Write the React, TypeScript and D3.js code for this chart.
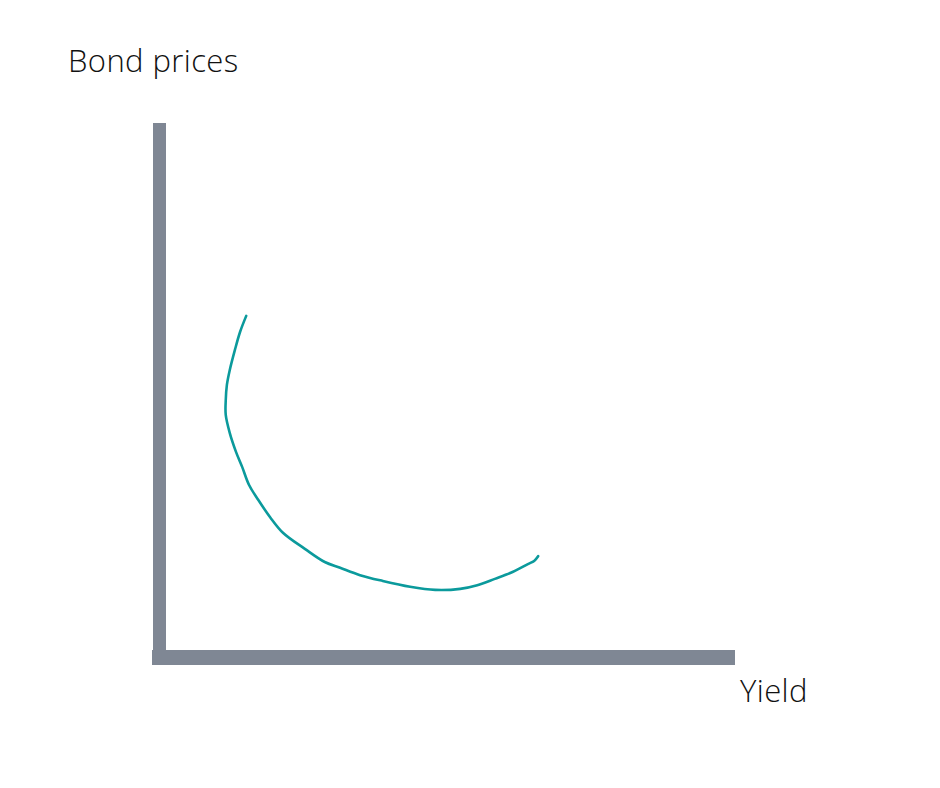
import React, { useEffect } from "react";
import * as d3 from "d3";

const yieldValues = [14.1, 13.0, 12.1, 11.2, 10.7, 10.5, 10.5, 11.2, 12.3, 13.4, 14.6, 16.2, 18.3, 20.6, 24.4, 27.9, 30.6, 34.1, 38.1, 42.9, 47.3, 51.7, 54.7, 57.8, 60.5, 63.6, 64.7, 65.4];
const priceValues = [63.4, 60.3, 56.9, 53.1, 50.3, 47.4, 44.6, 41.2, 37.6, 34.7, 31.3, 28.5, 25.2, 22.2, 19.2, 16.7, 15.6, 14.2, 13.1, 12.0, 11.4, 11.6, 12.3, 13.5, 14.6, 16.3, 16.9, 17.8];
const yAxisTitle = "Bond prices";
const xAxisTitle = "Yield";

const W = 940;
const H = 788;

export default function App() {
  useEffect(() => {
    document.body.style.margin = "0";
  }, []);

  const x = d3.scaleLinear().domain([0, 100]).range([166, 735]);
  const y = d3.scaleLinear().domain([0, 100]).range([650, 123]);

  const pts: [number, number][] = yieldValues.map((v, i) => [v, priceValues[i]]);
  const line = d3
    .line<[number, number]>()
    .x((d) => x(d[0]))
    .y((d) => y(d[1]))
    .curve(d3.curveCatmullRom.alpha(0.5));

  const axisColor = "#7f8794";

  return (
    <svg width={W} height={H} style={{ display: "block", background: "#fff" }}>
      <rect x={153} y={y(100)} width={13} height={y(0) - y(100)} fill={axisColor} />
      <rect x={152} y={y(0)} width={x(100) - 152} height={15} fill={axisColor} />
      <path d={line(pts) || ""} fill="none" stroke="#0b9a9c" strokeWidth={2.6} strokeLinecap="round" strokeLinejoin="round" />
      <text x={68} y={72} fontFamily="'Open Sans', sans-serif" fontWeight={300} fontSize={31} letterSpacing={0.4} fill="#111">
        {yAxisTitle}
      </text>
      <text x={740} y={702} fontFamily="'Open Sans', sans-serif" fontWeight={300} fontSize={31} letterSpacing={0.4} fill="#111">
        {xAxisTitle}
      </text>
    </svg>
  );
}
